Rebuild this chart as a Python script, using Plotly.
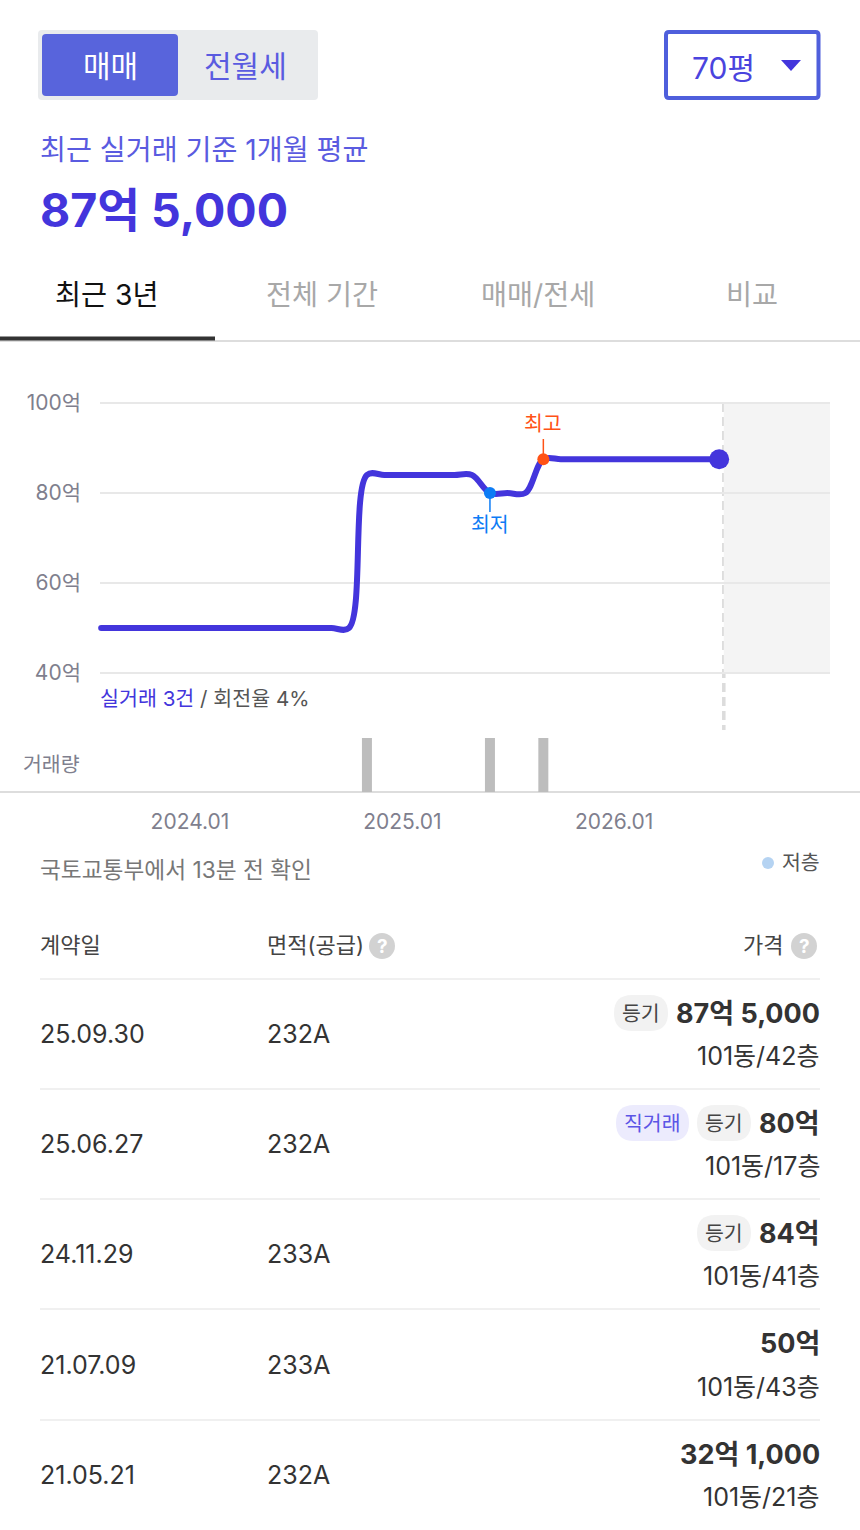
import plotly.graph_objects as go

# ---------- data ----------
months = ["2023-08-01","2023-09-01","2023-10-01","2023-11-01","2023-12-01","2024-01-01","2024-02-01","2024-03-01",
          "2024-04-01","2024-05-01","2024-06-01","2024-07-01","2024-08-01","2024-09-01","2024-10-01","2024-11-01",
          "2024-12-01","2025-01-01","2025-02-01","2025-03-01","2025-04-01","2025-05-01","2025-06-01","2025-07-01",
          "2025-08-01","2025-09-01","2025-10-01","2025-11-01","2025-12-01","2026-01-01","2026-02-01","2026-03-01",
          "2026-04-01","2026-05-01","2026-06-01","2026-07-01"]
prices = [50,50,50,50,50,50,50,50,50,50,50,50,50,50,50,84,84,84,84,84,84,84,80,80,80,87.5,87.5,87.5,87.5,87.5,87.5,87.5,87.5,87.5,87.5,87.5]
volume_months = ["2024-11-01","2025-06-01","2025-09-01"]
volume_values = [1,1,1]
low_month, low_price = "2025-06-01", 80
high_month, high_price = "2025-09-01", 87.5
last_month, last_price = "2026-07-01", 87.5
y_ticks = [40,60,80,100]
y_tick_labels = ["40억","60억","80억","100억"]
x_ticks = ["2024-01-01","2025-01-01","2026-01-01"]
x_tick_labels = ["2024.01","2025.01","2026.01"]
tabs = ["최근 3년","전체 기간","매매/전세","비교"]
row_dates = ["25.09.30","25.06.27","24.11.29","21.07.09","21.05.21"]
row_areas = ["232A","232A","233A","233A","232A"]
row_prices = ["87억 5,000","80억","84억","50억","32억 1,000"]
row_units = ["101동/42층","101동/17층","101동/41층","101동/43층","101동/21층"]

# ---------- style ----------
W, H = 860, 1530
FONT = "Inter, 'Noto Sans CJK KR', sans-serif"
INDIGO = "#4335dc"
SOFT = "#5a5be0"
GREY = "#7f7f8e"
DARK = "#333333"

def px(x): return x / W
def py(y): return 1 - y / H

shapes, annos = [], []

def text(x, y, s, size, color, anchor="left", bold=False):
    annos.append(dict(xref="paper", yref="paper", x=px(x), y=py(y), text=f"<b>{s}</b>" if bold else s,
                      showarrow=False, xanchor=anchor, yanchor="middle",
                      font=dict(size=size, color=color, family=FONT), borderpad=0, borderwidth=0))

def rrect(x0, y0, x1, y1, r, fill=None, line=None, lw=0):
    X0, X1, Y0, Y1 = px(x0), px(x1), py(y0), py(y1)
    rx, ry = r / W, r / H
    path = (f"M{X0+rx},{Y0} L{X1-rx},{Y0} Q{X1},{Y0} {X1},{Y0-ry} L{X1},{Y1+ry} Q{X1},{Y1} {X1-rx},{Y1} "
            f"L{X0+rx},{Y1} Q{X0},{Y1} {X0},{Y1+ry} L{X0},{Y0-ry} Q{X0},{Y0} {X0+rx},{Y0} Z")
    shapes.append(dict(type="path", xref="paper", yref="paper", path=path, fillcolor=fill or "rgba(0,0,0,0)",
                       line=dict(color=line or "rgba(0,0,0,0)", width=lw), layer="below"))

def hline(x0, x1, y, color, w):
    shapes.append(dict(type="line", xref="paper", yref="paper", x0=px(x0), x1=px(x1), y0=py(y), y1=py(y),
                       line=dict(color=color, width=w), layer="below"))

# header controls
rrect(38, 30, 318, 100, 4, fill="#e9ebed")
rrect(42, 34, 178, 96, 4, fill="#5864dc")
text(110, 66, "매매", 30, "#ffffff", "center")
text(246, 66, "전월세", 30, SOFT, "center")
rrect(666, 32, 818.5, 98, 3, line="#4f5fdc", lw=4)
text(723, 68, "70평", 30, "#4a44de", "center")
shapes.append(dict(type="path", xref="paper", yref="paper", layer="below", fillcolor=INDIGO, line=dict(width=0),
                   path=f"M{px(781)},{py(60)} L{px(801)},{py(60)} L{px(791)},{py(71)} Z"))
text(40, 150, "최근 실거래 기준 1개월 평균", 28.2, SOFT)
text(40, 210, "87억 5,000", 46.5, INDIGO, bold=True)

# tabs
for cx, t, c in zip([107, 322, 538, 752], tabs, ["#111111", "#a8a8a8", "#a8a8a8", "#a8a8a8"]):
    text(cx, 294.5, t, 28.3, c, "center")
hline(0, 860, 341, "#dddddd", 2)
hline(0, 215, 338.5, "#333333", 4)

# chart furniture
shapes.append(dict(type="rect", xref="x", yref="y", x0="2026-07-09", x1="2027-01-08", y0=40, y1=100,
                   fillcolor="#f4f4f4", line=dict(width=0), layer="below"))
shapes.append(dict(type="line", xref="x", yref="paper", x0="2026-07-09", x1="2026-07-09", y0=py(403), y1=py(730),
                   line=dict(color="#dcdcdc", width=3.5, dash="9px,5px"), layer="between"))
hline(0, 860, 792, "#dddddd", 2)
shapes.append(dict(type="line", xref="x", yref="y", x0=low_month, x1=low_month, y0=low_price, y1=75.8,
                   line=dict(color="#0d7cf5", width=1.5)))
shapes.append(dict(type="line", xref="x", yref="y", x0=high_month, x1=high_month, y0=high_price, y1=92,
                   line=dict(color="#ff5216", width=1.5)))
annos.append(dict(xref="x", yref="paper", x=low_month, y=py(524), text="최저", showarrow=False, xanchor="center",
                  yanchor="middle", font=dict(size=20.5, color="#0d7cf5", family=FONT)))
annos.append(dict(xref="x", yref="paper", x=high_month, y=py(423), text="최고", showarrow=False, xanchor="center",
                  yanchor="middle", font=dict(size=20.5, color="#ff5216", family=FONT)))
text(100, 699, f'<span style="color:{INDIGO}">실거래 3건</span> / 회전율 4%', 20.6, "#555555")
text(23, 764, "거래량", 20.5, GREY)
text(40, 869, "국토교통부에서 13분 전 확인", 22.7, "#777777")
shapes.append(dict(type="circle", xref="paper", yref="paper", x0=px(762), x1=px(774), y0=py(869), y1=py(857),
                   fillcolor="#b5d3f2", line=dict(width=0)))
text(782, 862, "저층", 20.5, "#555555")

# table head
text(40, 945, "계약일", 22, "#444444")
text(267, 945, "면적(공급)", 22, "#444444")
text(783, 945, "가격", 22, "#444444", "right")
for cx in (382, 804):
    shapes.append(dict(type="circle", xref="paper", yref="paper", x0=px(cx-13), x1=px(cx+13), y0=py(959), y1=py(933),
                       fillcolor="#d2d2d2", line=dict(width=0)))
    text(cx, 946, "?", 19, "#ffffff", "center", bold=True)

# table rows
sep_y = [979, 1089, 1199, 1309, 1420]
date_y = [1034, 1144, 1254, 1365, 1475]
price_y = [1013, 1123, 1233, 1343, 1454]
unit_y = [1056, 1166, 1276, 1387, 1497]
for i in range(5):
    hline(40, 820, sep_y[i], "#f0f0f0", 2)
    text(40, date_y[i], row_dates[i], 25, DARK)
    text(267, date_y[i], row_areas[i], 25, DARK)
    text(820, price_y[i], row_prices[i], 27, DARK, "right", bold=True)
    text(820, unit_y[i], row_units[i], 25, DARK, "right")

def pill(x0, x1, y, label, fill, color):
    rrect(x0, y - 18, x1, y + 18, 18, fill=fill)
    text((x0 + x1) / 2, y, label, 20.5, color, "center")

pill(614, 668, 1013, "등기", "#f2f2f2", "#444444")
pill(616, 689, 1123, "직거래", "#ecebfd", "#5b55e6")
pill(697, 751, 1123, "등기", "#f2f2f2", "#444444")
pill(697, 751, 1233, "등기", "#f2f2f2", "#444444")

# ---------- figure ----------
fig = go.Figure()
fig.add_trace(go.Bar(x=volume_months, y=volume_values, xaxis="x", yaxis="y2", width=1.489e9,
                     marker=dict(color="#bdbdbd", line=dict(width=0)), hoverinfo="skip"))
fig.add_trace(go.Scatter(x=months, y=prices, mode="lines", xaxis="x", yaxis="y", cliponaxis=False,
                         line=dict(color=INDIGO, width=6, shape="spline", smoothing=1.0), hoverinfo="skip"))
fig.add_trace(go.Scatter(x=months[:1], y=prices[:1], mode="markers", cliponaxis=False,
                         marker=dict(color=INDIGO, size=6), hoverinfo="skip"))
fig.add_trace(go.Scatter(x=[low_month], y=[low_price], mode="markers", cliponaxis=False,
                         marker=dict(color="#0d7cf5", size=12), hoverinfo="skip"))
fig.add_trace(go.Scatter(x=[high_month], y=[high_price], mode="markers", cliponaxis=False,
                         marker=dict(color="#ff5216", size=12), hoverinfo="skip"))
fig.add_trace(go.Scatter(x=[last_month], y=[last_price], mode="markers", cliponaxis=False,
                         marker=dict(color=INDIGO, size=20), hoverinfo="skip"))

fig.update_layout(
    width=W, height=H, margin=dict(l=0, r=0, t=0, b=0, autoexpand=False), autosize=False,
    paper_bgcolor="white", plot_bgcolor="rgba(0,0,0,0)", showlegend=False,
    font=dict(family=FONT), shapes=shapes, annotations=annos,
    xaxis=dict(domain=[px(100), px(830)], type="date", range=["2023-07-30", "2027-01-08"], anchor="y2",
               tickvals=x_ticks, ticktext=x_tick_labels, showgrid=False, zeroline=False, showline=False,
               ticks="", ticklabelstandoff=15, tickfont=dict(size=21, color=GREY, family=FONT)),
    yaxis=dict(domain=[py(682), py(394)], range=[38, 102], anchor="x", tickvals=y_ticks, ticktext=y_tick_labels,
               gridcolor="#e8e8e8", gridwidth=2, zeroline=False, showline=False, ticks="", ticklabelstandoff=18,
               tickfont=dict(size=21, color=GREY, family=FONT)),
    yaxis2=dict(domain=[py(792), py(738)], range=[0, 1], anchor="x", visible=False),
)

fig.write_html("out.html", config=dict(displayModeBar=False, staticPlot=True),
               post_script="document.body.style.margin='0';")
